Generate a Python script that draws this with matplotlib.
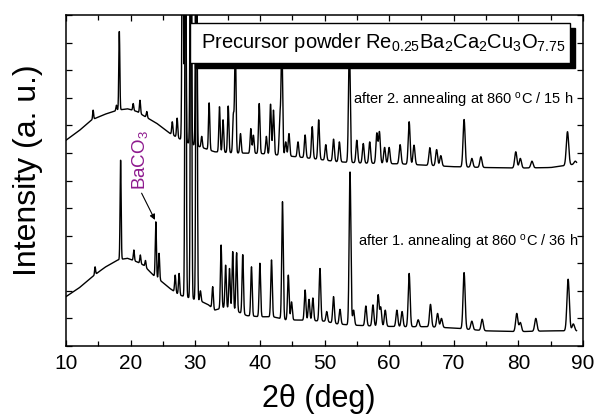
import numpy as np
import matplotlib
matplotlib.use('Agg')
import matplotlib.pyplot as plt
from matplotlib.patches import Rectangle
from matplotlib.ticker import MultipleLocator, NullFormatter

plt.rcParams['font.family'] = ['Liberation Sans', 'DejaVu Sans']
plt.rcParams['mathtext.fontset'] = 'custom'
plt.rcParams['mathtext.rm'] = 'Liberation Sans'
plt.rcParams['mathtext.it'] = 'Liberation Sans:italic'
plt.rcParams['mathtext.bf'] = 'Liberation Sans:bold'

# ---------------- data ----------------
# after 1. annealing (lower trace): background and peak tops
bg1_x = [10, 12, 14, 16, 18, 19.5, 21, 22, 23.5, 25, 26, 27.5, 29, 31, 32, 33, 34.5,
         36, 38, 40, 42, 44, 46, 50, 52, 54, 58, 62, 66, 70, 75, 80, 85, 89]
bg1_y = [1.79, 2.1, 2.5, 2.85, 3.12, 3.18, 3.05, 2.93, 2.57, 2.3, 2.1, 1.85, 1.75, 1.61,
         1.5, 1.3, 1.4, 1.3, 1.1, 1.06, 1.06, 0.95, 0.94, 0.9, 0.8, 0.76, 0.72, 0.7,
         0.7, 0.65, 0.55, 0.52, 0.55, 0.55]
pk1_pos = [14.5, 18.45, 20.5, 21.5, 22.3, 23.9, 24.4, 26.9, 27.5, 28.5, 29.35, 30.2,
           30.8, 32.7, 34.0, 34.7, 35.3, 35.8, 36.4, 37.35, 38.7, 40.0, 41.8, 43.5,
           44.4, 44.9, 47.0, 47.6, 48.2, 49.3, 50.35, 51.4, 52.4, 53.95, 54.5, 56.4,
           57.5, 58.3, 58.7, 59.4, 61.2, 62.0, 63.1, 64.5, 66.4, 67.5, 68.1, 71.6,
           72.8, 74.4, 79.75, 80.3, 82.7, 87.7, 88.5]
pk1_top = [2.87, 6.76, 3.48, 3.3, 3.1, 4.5, 3.36, 2.57, 2.63, 20, 20, 20,
           2.0, 2.15, 3.66, 2.93, 2.81, 3.42, 3.38, 3.32, 2.87, 3.0, 3.12, 5.23,
           2.57, 1.6, 2.03, 1.69, 1.74, 2.81, 1.25, 1.79, 1.33, 6.32, 1.3, 1.45,
           1.49, 1.85, 1.4, 1.3, 1.3, 1.25, 2.63, 0.95, 1.51, 1.18, 1.0, 2.66,
           0.9, 0.97, 1.18, 0.85, 1.0, 2.42, 0.8]

# after 2. annealing (upper trace)
bg2_x = [10, 12, 14, 16, 18, 19.5, 21, 22, 24, 26, 27.5, 29, 31, 33, 36, 40, 44, 48,
         52, 56, 62, 66, 70, 75, 80, 85, 89]
bg2_y = [7.46, 7.8, 8.2, 8.4, 8.55, 8.6, 8.5, 8.35, 8.08, 7.72, 7.52, 7.35, 7.2, 7.04,
         7.0, 6.98, 6.9, 6.8, 6.68, 6.63, 6.6, 6.55, 6.5, 6.47, 6.45, 6.47, 6.6]
pk2_pos = [14.2, 17.8, 18.25, 20.4, 21.45, 22.5, 26.45, 27.2, 28.05, 28.45, 29.3, 30.15,
           31.0, 32.15, 33.75, 34.3, 35.1, 35.9, 36.2, 37.0, 38.6, 39.0, 39.9, 41.0,
           41.65, 42.1, 43.1, 43.4, 44.0, 44.5, 45.9, 47.0, 48.1, 49.1, 50.2, 51.4,
           52.3, 53.85, 55.0, 56.0, 57.0, 58.1, 58.5, 59.3, 60.0, 61.7, 63.1, 63.85,
           66.3, 67.35, 68.0, 71.6, 72.8, 74.2, 79.6, 80.3, 82.1, 87.6, 88.8]
pk2_top = [8.55, 8.73, 11.42, 8.79, 8.91, 8.5, 8.13, 8.26, 20, 20, 20, 20,
           7.6, 8.82, 8.68, 8.2, 8.7, 8.37, 11.0, 7.7, 7.88, 7.64, 8.79, 7.6,
           8.77, 8.55, 8.3, 11.0, 7.4, 7.7, 7.4, 7.65, 7.95, 8.2, 7.3, 7.5,
           7.4, 11.0, 7.46, 7.34, 7.4, 7.71, 7.76, 7.2, 7.2, 7.3, 8.13, 7.28,
           7.19, 7.12, 6.9, 8.21, 6.8, 6.86, 7.04, 6.8, 6.7, 7.77, 6.7]

x_ticks = [10, 20, 30, 40, 50, 60, 70, 80, 90]
x_label = '2\u03b8 (deg)'
y_label = 'Intensity (a. u.)'
label_1 = r'after 1. annealing at 860 $^{\mathrm{o}}$C / 36 h'
label_2 = r'after 2. annealing at 860 $^{\mathrm{o}}$C / 15 h'
title_box = r'Precursor powder Re$_{0.25}$Ba$_2$Ca$_2$Cu$_3$O$_{7.75}$'
phase_label = r'BaCO$_3$'

# ---------------- build the patterns ----------------
two_theta = np.arange(10.0, 89.001, 0.02)


def pattern(bx, by, pos, top):
    base = np.interp(two_theta, bx, by)
    y = base.copy()
    for p, t in zip(pos, top):
        h = t - np.interp(p, bx, by)
        fwhm = 0.16 + 0.0035 * (p - 10)
        s = fwhm / 2.3548
        y += h * np.exp(-0.5 * ((two_theta - p) / s) ** 2)
    return y


y1 = pattern(bg1_x, bg1_y, pk1_pos, pk1_top)
y2 = pattern(bg2_x, bg2_y, pk2_pos, pk2_top)

# ---------------- figure ----------------
fig = plt.figure(figsize=(5.97, 4.17), dpi=100)
ax = fig.add_axes([66 / 597, 71 / 417, 517 / 597, 331 / 417])

ax.plot(two_theta, y1, color='black', lw=1.0, zorder=2)
ax.plot(two_theta, y2, color='black', lw=1.0, zorder=2)

ax.set_xlim(10, 90)
ax.set_ylim(0, 12)
ax.set_xticks(x_ticks)
ax.xaxis.set_minor_locator(MultipleLocator(5))
ax.yaxis.set_major_locator(MultipleLocator(1))
ax.yaxis.set_major_formatter(NullFormatter())
ax.tick_params(axis='both', which='both', direction='in', top=True, right=True,
               width=0.9, color='black')
ax.tick_params(axis='both', which='major', length=4)
ax.tick_params(axis='x', which='minor', length=3.5)
ax.tick_params(axis='x', labelsize=15, pad=6)
for sp in ax.spines.values():
    sp.set_linewidth(1.1)

ax.set_xlabel(x_label, fontsize=22, va='top')
ax.xaxis.set_label_coords(0.489, -0.115)
ax.set_ylabel(y_label, fontsize=23)
ax.yaxis.set_label_coords(-0.045, 0.53)

# boxed title with shadow
bx0, by0, bw, bh = 0.2398, 0.855, 0.735, 0.12
ax.add_patch(Rectangle((bx0 + 0.0097, by0 - 0.0151), bw, bh, transform=ax.transAxes,
                       facecolor='black', edgecolor='black', zorder=5, clip_on=False))
ax.add_patch(Rectangle((bx0, by0), bw, bh, transform=ax.transAxes,
                       facecolor='white', edgecolor='black', lw=1.0, zorder=6,
                       clip_on=False))
ax.text(0.261, 0.918, title_box, transform=ax.transAxes, fontsize=14.5,
        ha='left', va='center', zorder=7)

ax.text(54.4, 8.91, label_2, fontsize=10.5, ha='left', va='center', zorder=4)
ax.text(55.2, 3.77, label_1, fontsize=10.5, ha='left', va='center', zorder=4)

ax.text(21.45, 6.74, phase_label, rotation=90, fontsize=13.5, color='#8E1A8E',
        ha='center', va='center', zorder=4)
ax.annotate('', xy=(23.77, 4.57), xytext=(21.7, 5.54),
            arrowprops=dict(arrowstyle='-|>', color='black', lw=0.8,
                            mutation_scale=8, shrinkA=0, shrinkB=0), zorder=4)

fig.savefig('out.png', dpi=100)
